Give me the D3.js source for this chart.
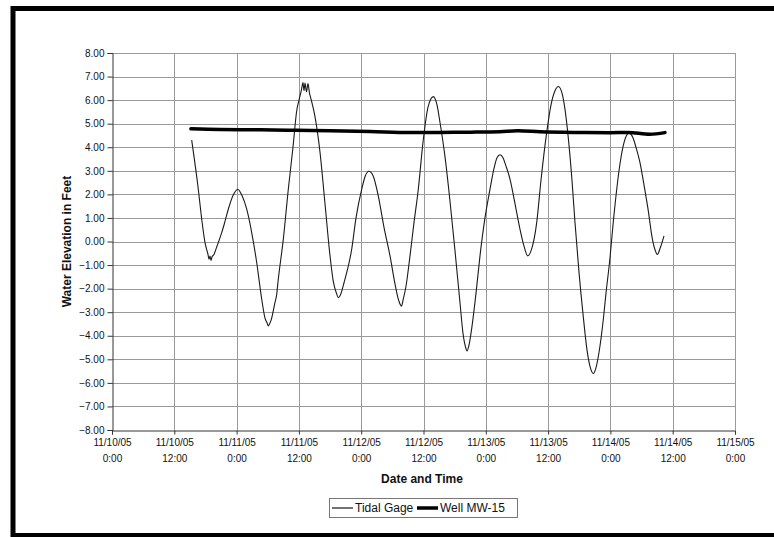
<!DOCTYPE html>
<html>
<head>
<meta charset="utf-8">
<script src="https://cdn.jsdelivr.net/npm/d3@7"></script>
<style>
  html, body { margin: 0; padding: 0; background: #fff; }
  svg { display: block; font-family: Arial, "Liberation Sans", sans-serif; }
</style>
</head>
<body>
<svg id="chart" width="774" height="537"></svg>
<script>
// Tidal gage record: hours after 11/10/05 0:00 and water elevation (ft)
const tidalHours = [
  15.35, 16.62, 17.28, 17.91, 18.49, 18.68, 18.88, 19.07, 19.26, 19.64,
  20.22, 21.13, 21.57, 22.40, 23.31, 24.21, 25.04, 25.95, 26.91, 27.87,
  28.84, 29.47, 29.86, 30.11, 30.34, 30.63, 31.39, 31.69, 32.03, 33.00,
  33.96, 34.86, 35.58, 36.02, 36.50, 36.79, 36.98, 37.18, 37.46, 37.75,
  38.04, 38.33, 39.10, 40.06, 41.03, 41.99, 42.63, 43.24, 43.59, 43.92,
  44.69, 46.17, 47.00, 48.10, 48.73, 49.50, 50.27, 51.29, 52.39, 53.55,
  54.51, 55.09, 55.47, 55.76, 56.05, 56.63, 57.40, 58.17, 59.00, 59.90,
  60.87, 61.89, 62.60, 63.18, 64.14, 65.11, 66.07, 67.03, 67.61, 68.19,
  68.38, 68.76, 69.34, 70.11, 70.88, 71.84, 72.81, 73.58, 74.16, 74.74,
  75.31, 75.89, 76.66, 77.63, 78.59, 79.36, 80.07, 80.71, 81.81, 82.63,
  83.73, 84.56, 85.33, 85.97, 86.68, 87.26, 87.89, 88.60, 89.18, 89.95,
  90.78, 91.49, 92.07, 92.71, 93.23, 93.81, 94.64, 95.15, 95.92, 96.50,
  97.22, 97.85, 98.62, 99.58, 100.35, 100.93, 101.70, 102.47, 103.30, 104.01,
  104.59, 105.04, 105.56, 106.33
];
const tidalFeet = [
  4.30, 2.22, 0.95, -0.04, -0.55, -0.75, -0.62, -0.80, -0.66, -0.55,
  -0.20, 0.38, 0.70, 1.37, 1.95, 2.22, 1.95, 1.37, 0.38, -0.89,
  -2.45, -3.25, -3.45, -3.58, -3.50, -3.35, -2.59, -2.30, -1.60, 0.10,
  2.22, 4.00, 5.55, 6.00, 6.45, 6.75, 6.40, 6.72, 6.35, 6.70,
  6.30, 6.05, 5.30, 3.80, 1.60, -0.60, -1.70, -2.20, -2.38, -2.30,
  -1.75, -0.33, 1.00, 2.22, 2.75, 2.98, 2.80, 1.94, 0.60, -0.61,
  -1.80, -2.40, -2.65, -2.75, -2.50, -1.90, -0.61, 0.80, 2.22, 4.20,
  5.70, 6.15, 5.80, 5.05, 3.60, 1.70, -0.40, -2.60, -3.90, -4.55,
  -4.65, -4.40, -3.60, -2.20, -0.61, 1.00, 2.22, 3.10, 3.55, 3.68,
  3.55, 3.20, 2.65, 1.60, 0.52, -0.20, -0.61, -0.40, 0.81, 2.60,
  4.63, 5.80, 6.40, 6.58, 6.30, 5.60, 4.40, 2.60, 0.81, -1.30,
  -3.20, -4.60, -5.30, -5.60, -5.35, -4.70, -3.30, -2.20, -0.70, 0.70,
  2.22, 3.30, 4.20, 4.60, 4.40, 4.00, 3.35, 2.40, 1.30, 0.20,
  -0.35, -0.55, -0.30, 0.24
];

// Monitoring well MW-15: hours after 11/10/05 0:00 and water elevation (ft)
const wellHours = [15.2, 20.8, 28.5, 35.6, 42.0, 49.7, 57.4, 63.2, 69.0, 74.7,
                   78.2, 82.4, 89.2, 95.9, 99.4, 103.6, 106.5];
const wellFeet  = [4.78, 4.75, 4.74, 4.72, 4.70, 4.67, 4.63, 4.63, 4.64, 4.66,
                   4.70, 4.66, 4.63, 4.62, 4.63, 4.55, 4.62];

// Axis ticks
const yTicks = [-8, -7, -6, -5, -4, -3, -2, -1, 0, 1, 2, 3, 4, 5, 6, 7, 8];
const xTickHours = [0, 12, 24, 36, 48, 60, 72, 84, 96, 108, 120];
const xTickDates = ["11/10/05", "11/10/05", "11/11/05", "11/11/05", "11/12/05", "11/12/05",
                    "11/13/05", "11/13/05", "11/14/05", "11/14/05", "11/15/05"];
const xTickTimes = ["0:00", "12:00", "0:00", "12:00", "0:00", "12:00",
                    "0:00", "12:00", "0:00", "12:00", "0:00"];

const seriesNames = ["Tidal Gage", "Well MW-15"];

const start = new Date(2005, 10, 10, 0, 0);
const toDate = h => new Date(start.getTime() + h * 3600 * 1000);

const tidal = tidalHours.map((h, i) => ({ t: toDate(h), v: tidalFeet[i] }));
const well = wellHours.map((h, i) => ({ t: toDate(h), v: wellFeet[i] }));

const svg = d3.select("#chart");
const plot = { left: 112, right: 735, top: 53, bottom: 430 };

const x = d3.scaleTime()
  .domain([toDate(0), toDate(120)])
  .range([plot.left, plot.right]);
const y = d3.scaleLinear()
  .domain([-8, 8])
  .range([plot.bottom, plot.top]);

// Outer frame
svg.append("rect")
  .attr("x", 13).attr("y", 8.5)
  .attr("width", 800).attr("height", 527)
  .attr("fill", "none").attr("stroke", "#000").attr("stroke-width", 5);

// Grid lines
const grid = svg.append("g").attr("stroke", "#9a9a9a").attr("stroke-width", 1);
grid.selectAll("line.h").data(yTicks.filter(d => d > -8)).join("line")
  .attr("class", "h")
  .attr("x1", plot.left).attr("x2", plot.right)
  .attr("y1", d => Math.round(y(d)) + 0.5).attr("y2", d => Math.round(y(d)) + 0.5);
grid.selectAll("line.v").data(xTickHours.filter(h => h > 0)).join("line")
  .attr("class", "v")
  .attr("x1", h => Math.round(x(toDate(h))) + 0.5).attr("x2", h => Math.round(x(toDate(h))) + 0.5)
  .attr("y1", plot.top).attr("y2", plot.bottom);

// Y axis
const yAxis = svg.append("g")
  .attr("transform", `translate(${plot.left + 0.5},0)`)
  .call(d3.axisLeft(y).tickValues(yTicks).tickSize(5).tickPadding(3)
    .tickFormat(d3.format(".2f")));
yAxis.select(".domain").attr("stroke", "#333");
yAxis.selectAll(".tick line").attr("stroke", "#333");
yAxis.selectAll("text").attr("font-size", 10).attr("fill", "#111")
  .attr("font-family", "Arial, 'Liberation Sans', sans-serif");

// X axis with two-line labels
const xAxis = svg.append("g")
  .attr("transform", `translate(0,${plot.bottom + 0.5})`)
  .call(d3.axisBottom(x).tickValues(xTickHours.map(toDate)).tickSize(4).tickFormat(""));
xAxis.select(".domain").attr("stroke", "#333");
xAxis.selectAll(".tick line").attr("stroke", "#333");
xAxis.selectAll(".tick").each(function (d, i) {
  const t = d3.select(this).append("text")
    .attr("fill", "#111").attr("font-size", 10).attr("text-anchor", "middle")
    .attr("font-family", "Arial, 'Liberation Sans', sans-serif");
  t.append("tspan").attr("x", 0).attr("y", 15).text(xTickDates[i]);
  t.append("tspan").attr("x", 0).attr("y", 31).text(xTickTimes[i]);
});

// Axis titles
svg.append("text")
  .attr("x", 422).attr("y", 483)
  .attr("text-anchor", "middle").attr("font-size", 12).attr("font-weight", "bold")
  .attr("fill", "#111").text("Date and Time");
svg.append("text")
  .attr("transform", `translate(71,${(plot.top + plot.bottom) / 2}) rotate(-90)`)
  .attr("text-anchor", "middle").attr("font-size", 12).attr("font-weight", "bold")
  .attr("fill", "#111").text("Water Elevation in Feet");

// Series lines
svg.append("path")
  .datum(tidal)
  .attr("d", d3.line().x(d => x(d.t)).y(d => y(d.v)).curve(d3.curveMonotoneX))
  .attr("fill", "none").attr("stroke", "#1a1a1a").attr("stroke-width", 1.1);
svg.append("path")
  .datum(well)
  .attr("d", d3.line().x(d => x(d.t)).y(d => y(d.v)).curve(d3.curveMonotoneX))
  .attr("fill", "none").attr("stroke", "#000").attr("stroke-width", 3.5)
  .attr("stroke-linecap", "round");

// Legend
const legend = svg.append("g");
legend.append("rect")
  .attr("x", 329.5).attr("y", 498.5).attr("width", 188).attr("height", 19)
  .attr("fill", "#fff").attr("stroke", "#777").attr("stroke-width", 1);
const legendItems = [
  { name: seriesNames[0], x: 332, width: 1.1 },
  { name: seriesNames[1], x: 417, width: 3.5 }
];
legendItems.forEach(it => {
  legend.append("line")
    .attr("x1", it.x).attr("x2", it.x + 21)
    .attr("y1", 508).attr("y2", 508)
    .attr("stroke", "#000").attr("stroke-width", it.width);
  legend.append("text")
    .attr("x", it.x + 23).attr("y", 512)
    .attr("font-size", 12).attr("fill", "#111").text(it.name);
});
</script>
</body>
</html>
